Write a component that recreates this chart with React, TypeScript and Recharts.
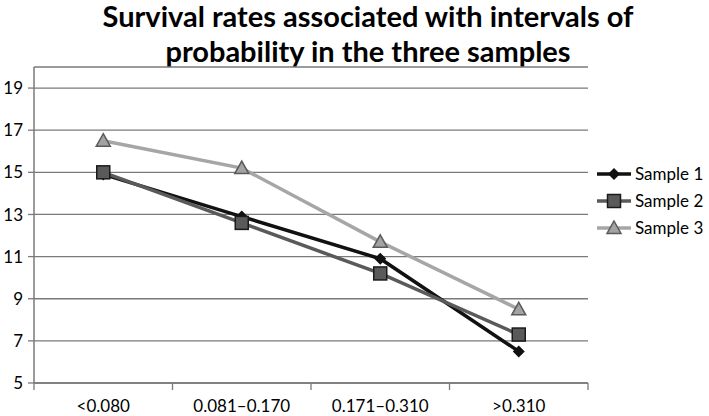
import { LineChart, Line, XAxis, YAxis, CartesianGrid } from "recharts";

const categories = ["<0.080", "0.081–0.170", "0.171–0.310", ">0.310"];
const sample1 = [14.9, 12.9, 10.9, 6.5];
const sample2 = [15.0, 12.6, 10.2, 7.3];
const sample3 = [16.5, 15.2, 11.7, 8.5];
const seriesNames = ["Sample 1", "Sample 2", "Sample 3"];
const yTicks = [5, 7, 9, 11, 13, 15, 17, 19];

const data = categories.map((cat, i) => ({
  cat,
  s1: sample1[i],
  s2: sample2[i],
  s3: sample3[i],
}));

const FONT = "Lato, 'Open Sans', sans-serif";
const AXIS = "#7a7a7a";
const LABEL_GAP = 17;

function Diamond({ cx, cy }: { cx: number; cy: number }) {
  return (
    <polygon
      points={`${cx},${cy - 6} ${cx + 6},${cy} ${cx},${cy + 6} ${cx - 6},${cy}`}
      fill="#111"
    />
  );
}

function Square({ cx, cy }: { cx: number; cy: number }) {
  return (
    <rect
      x={cx - 6.5}
      y={cy - 6.5}
      width={13}
      height={13}
      fill="#5a5a5a"
      stroke="#1a1a1a"
      strokeWidth={1.5}
    />
  );
}

function Triangle({ cx, cy }: { cx: number; cy: number }) {
  return (
    <polygon
      points={`${cx},${cy - 7} ${cx + 7},${cy + 5.5} ${cx - 7},${cy + 5.5}`}
      fill="#a3a3a3"
      stroke="#5a5a5a"
      strokeWidth={1.5}
    />
  );
}

const markers = [Diamond, Square, Triangle];
const lineColors = ["#111111", "#5a5a5a", "#a6a6a6"];
const keys = ["s1", "s2", "s3"];

const dotFn = (i: number) => (p: any) => {
  const M = markers[i];
  if (p.cx == null || p.cy == null) return <g key={p.index} />;
  return (
    <g key={`${keys[i]}-${p.index}`}>
      <M cx={p.cx} cy={p.cy} />
    </g>
  );
};

// category label plus the small tick marks on the band edges
function CatTick(props: any) {
  const { x, y, payload, index } = props;
  const half = payload.offset || 0;
  const axisY = y - LABEL_GAP;
  return (
    <g>
      <line
        x1={x - half}
        x2={x - half}
        y1={axisY}
        y2={axisY + 7}
        stroke={AXIS}
        strokeWidth={1.3}
      />
      {index === categories.length - 1 && (
        <line
          x1={x + half}
          x2={x + half}
          y1={axisY}
          y2={axisY + 7}
          stroke={AXIS}
          strokeWidth={1.3}
        />
      )}
      <text
        x={x}
        y={y}
        dy="0.71em"
        textAnchor="middle"
        fill="#000"
        fontSize={17}
        fontFamily={FONT}
      >
        {payload.value}
      </text>
    </g>
  );
}

export default function App() {
  return (
    <div
      style={{
        position: "absolute",
        left: 0,
        top: 0,
        width: 709,
        height: 416,
        background: "#fff",
        fontFamily: FONT,
        overflow: "hidden",
      }}
    >
      <div
        style={{
          position: "absolute",
          left: 68,
          top: -2,
          width: 600,
          textAlign: "center",
          fontSize: 29,
          lineHeight: "35px",
          fontWeight: 700,
          color: "#000",
        }}
      >
        Survival rates associated with intervals of
        <br />
        probability in the three samples
      </div>

      <LineChart
        width={709}
        height={416}
        data={data}
        margin={{ top: 67, right: 121, bottom: 0, left: 0 }}
      >
        <CartesianGrid vertical={false} stroke={AXIS} strokeWidth={1.3} />
        <XAxis
          dataKey="cat"
          scale="band"
          height={33}
          axisLine={{ stroke: AXIS, strokeWidth: 1.5 }}
          tickLine={false}
          tickSize={0}
          tickMargin={LABEL_GAP}
          interval={0}
          tick={<CatTick />}
        />
        <YAxis
          width={34}
          domain={[5, 20]}
          ticks={yTicks}
          interval={0}
          axisLine={{ stroke: AXIS, strokeWidth: 1.5 }}
          tickLine={{ stroke: AXIS, strokeWidth: 1.3 }}
          tickSize={6}
          tickMargin={5}
          tick={{ fill: "#000", fontSize: 17, fontFamily: FONT }}
        />
        {keys.map((k, i) => (
          <Line
            key={k}
            dataKey={k}
            name={seriesNames[i]}
            type="linear"
            stroke={lineColors[i]}
            strokeWidth={3.5}
            dot={dotFn(i)}
            activeDot={false}
            isAnimationActive={false}
          />
        ))}
      </LineChart>

      <div style={{ position: "absolute", left: 597, top: 160 }}>
        {seriesNames.map((name, i) => {
          const M = markers[i];
          return (
            <div
              key={name}
              style={{ display: "flex", alignItems: "center", height: 27 }}
            >
              <svg width={34} height={16}>
                <line
                  x1={0}
                  y1={8}
                  x2={34}
                  y2={8}
                  stroke={lineColors[i]}
                  strokeWidth={3.5}
                />
                <M cx={17} cy={8} />
              </svg>
              <span style={{ fontSize: 17, marginLeft: 4, color: "#000" }}>
                {name}
              </span>
            </div>
          );
        })}
      </div>
    </div>
  );
}
